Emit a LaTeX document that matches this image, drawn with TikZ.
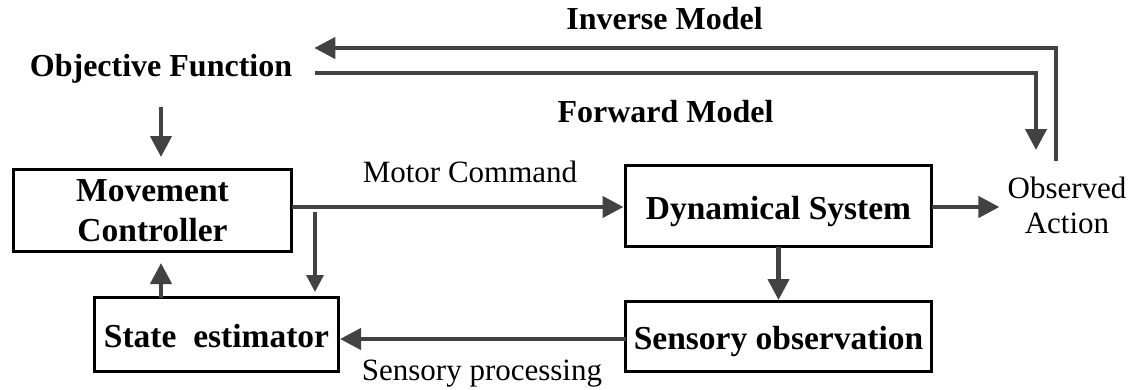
\documentclass[tikz,border=0pt]{standalone}
\usepackage{fontspec}
\setmainfont{Liberation Serif}
\usetikzlibrary{arrows.meta,calc}
\definecolor{arrowgray}{RGB}{66,66,66}
\begin{document}
\begin{tikzpicture}[x=1pt,y=-1pt,
  box/.style={draw=black, line width=3pt, inner sep=0pt, outer sep=0pt,
    font=\fontsize{33.5}{40}\selectfont\bfseries},
  onebox/.style={box, text height=26pt, text depth=0pt},
  heading/.style={font=\fontsize{32}{35}\selectfont\bfseries, inner sep=0pt,
    text depth=0pt, anchor=base},
  plain/.style={font=\fontsize{31}{35}\selectfont, inner sep=0pt, anchor=base},
  flow/.style={draw=arrowgray, line width=4.3pt, -{Triangle[length=21pt,width=21pt]}},
  thinflow/.style={draw=arrowgray, line width=3.3pt, -{Triangle[length=17pt,width=17pt]}},
]
\useasboundingbox (0,0) rectangle (1134,389);

% blocks
\node[box, align=center, minimum width=278pt, minimum height=82pt] (mc) at (152.5,210.5) {Movement\\Controller};
\node[onebox, minimum width=244pt, minimum height=74pt] (se) at (216.5,334.5) {State\ \ estimator};
\node[onebox, minimum width=306pt, minimum height=81pt] (ds) at (778.5,206) {Dynamical System};
\node[onebox, minimum width=306pt, minimum height=70pt] (so) at (778.5,336.5) {Sensory observation};

% labels
\node[heading] (obj) at (161,76) {Objective Function};
\node[heading] (inv) at (664.5,29) {Inverse Model};
\node[heading] (fwd) at (665.5,122) {Forward Model};
\node[plain] (mcmd) at (470,182) {Motor Command};
\node[plain] (sp) at (482,380) {Sensory processing};
\node[plain, align=center, anchor=north] (oa) at (1067,177) {Observed\\Action};

% routing points
\coordinate (invR) at (1056,48);
\coordinate (fwdR) at (1036,73);
\coordinate (my) at (0,207);
\coordinate (spy) at (0,339);
\coordinate (br) at (315,212);

% inverse and forward model loops
\draw[flow, shorten <=16pt, shorten >=22pt] (oa.north -| invR) -- (invR) -- (invR -| obj.east);
\draw[flow, shorten <=23pt, shorten >=27pt] (obj.east |- fwdR) -- (fwdR) -- (fwdR |- oa.north);

% objective to controller
\draw[flow, shorten <=31pt, shorten >=12.5pt] (obj.south) -- (obj.south |- mc.north);

% motor command path
\draw[flow, shorten >=2pt] (mc.east |- my) -- (ds.west |- my);
\draw[thinflow, shorten >=5.5pt] (br) -- (br |- se.north);
\draw[flow, shorten >=8pt] (ds.east |- my) -- (oa.west |- my);

% sensing path
\draw[flow, shorten >=1.5pt] (ds.south) -- (so.north);
\draw[flow, shorten >=1.5pt] (so.west |- spy) -- (se.east |- spy);
\draw[flow, shorten >=11.5pt] (se.north -| obj.south) -- (mc.south -| obj.south);
\end{tikzpicture}
\end{document}
